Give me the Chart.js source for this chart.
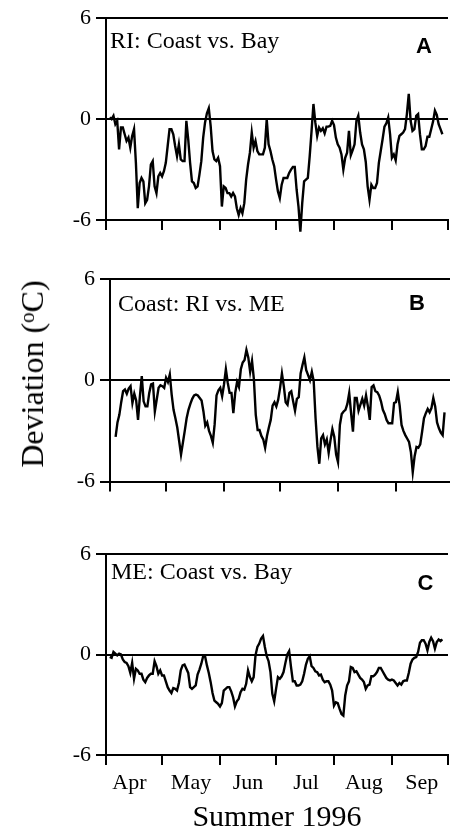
<!DOCTYPE html>
<html>
<head>
<meta charset="utf-8">
<script src="https://cdn.jsdelivr.net/npm/chart.js@4.4.1/dist/chart.umd.min.js"></script>
<style>
  html, body { margin: 0; padding: 0; background: #fff; overflow: hidden; }
  body { width: 450px; height: 833px; position: relative; }
  .panel { position: absolute; left: 0; }
  #ylabel {
    position: absolute; left: 32px; top: 374px;
    transform: translate(-50%, -50%) rotate(-90deg);
    font-family: "Liberation Serif", serif; font-size: 32px; line-height: 1;
    white-space: nowrap; color: #000;
  }
  #ylabel sup { font-size: 21px; line-height: 0; vertical-align: 0.45em; }
</style>
</head>
<body>
<div class="panel" style="top:0;width:450px;height:240px"><canvas id="chartA"></canvas></div>
<div class="panel" style="top:250px;width:454px;height:250px"><canvas id="chartB"></canvas></div>
<div class="panel" style="top:520px;width:450px;height:313px"><canvas id="chartC"></canvas></div>
<div id="ylabel">Deviation (<sup>o</sup>C)</div>

<script>
// Days counted from 1 April 1996
const monthStarts = [0, 30, 61, 91, 122, 153, 183];
const monthLabels = ['Apr', 'May', 'Jun', 'Jul', 'Aug', 'Sep'];
const monthLabelDays = [12.5, 45.5, 76, 107, 138, 169];
const yTicks = [-6, 0, 6];

// A: RI, coast vs. bay (daily, from day 2)
const riStart = 2;
const riCoastBay = [
  0.1, 0.0, 0.2, -0.3, -0.1, -1.8, -0.5, -0.5, -0.9, -1.3,
  -1.1, -1.7, -1.0, -0.6, -2.6, -5.3, -3.8, -3.5, -3.7, -5.0,
  -4.8, -4.0, -2.7, -2.5, -4.0, -4.4, -3.4, -3.2, -3.4, -3.1,
  -2.6, -1.6, -0.6, -0.6, -0.9, -1.6, -2.2, -1.5, -2.4, -2.5,
  -2.5, -0.1, -1.2, -2.6, -3.7, -3.8, -4.1, -4.0, -3.3, -2.5,
  -1.1, -0.2, 0.35, 0.65, -0.4, -1.9, -2.4, -2.5, -2.3, -2.8,
  -5.2, -4.0, -4.1, -4.4, -4.4, -4.6, -4.4, -4.6, -5.3, -5.7,
  -5.3, -5.6, -5.0, -3.6, -2.7, -2.0, -0.8, -1.7, -1.3, -1.9,
  -2.1, -2.1, -2.1, -1.7, 0.0, -1.5, -1.9, -2.4, -2.8, -3.6,
  -4.3, -4.7, -3.9, -3.5, -3.5, -3.5, -3.2, -3.0, -2.85, -2.85,
  -4.2, -5.2, -6.7, -5.0, -3.7, -3.6, -3.5, -2.2, -0.7, 0.9,
  -0.2, -1.0, -0.5, -0.7, -0.55, -0.85, -0.45, -0.45, -0.4, -0.1,
  -0.35, -1.1, -1.5, -1.7, -2.1, -3.0, -2.3, -2.0, -0.7, -2.15,
  -1.85, -1.5, -0.1, 0.2, -0.8, -1.5, -1.8, -2.55, -4.0, -4.8,
  -3.9, -4.1, -4.1, -3.8, -2.6, -1.9, -1.2, -0.45, -0.25, 0.1,
  -0.9, -2.3, -2.1, -2.45, -1.5, -1.0, -0.9, -0.8, -0.6, 0.3,
  1.5, -0.1, -0.7, -0.6, 0.2, 0.3, -0.9, -1.8, -1.8, -1.6,
  -1.05, -1.05, -0.6, -0.15, 0.5, 0.25, -0.3, -0.6, -0.9
];

// B: coast, RI vs. ME (daily, from day 3)
const coastStart = 3;
const coastRiMe = [
  -3.35, -2.5, -2.05, -1.3, -0.65, -0.55, -0.8, -0.5, -0.35, -1.35,
  -0.8, -1.2, -2.35, -0.95, 0.25, -1.25, -1.55, -1.55, -0.75, -0.25,
  -0.2, -1.85, -1.15, -0.45, -0.3, -0.35, -0.45, 0.15, -0.1, 0.35,
  -0.85, -1.75, -2.25, -2.8, -3.6, -4.4, -3.7, -3.0, -2.25, -1.75,
  -1.4, -1.1, -0.9, -0.85, -0.9, -1.05, -1.2, -1.85, -2.7, -2.5,
  -3.0, -3.3, -3.7, -2.6, -0.9, -0.6, -0.45, -0.95, -0.25, 0.65,
  -0.15, -0.75, -0.75, -1.95, -0.75, -0.1, -0.4, 0.65, 1.05, 1.2,
  1.8, 1.35, 0.5, 1.15, 0.05, -2.05, -2.95, -2.95, -3.3, -3.5,
  -4.0, -3.3, -2.8, -2.35, -1.5, -1.3, -1.55, -1.15, -0.45, 0.4,
  -0.35, -1.3, -1.45, -0.75, -0.65, -1.25, -1.8, -1.1, -1.0, 0.4,
  0.9, 1.35, 0.6, 0.3, 0.0, 0.5, -0.05, -2.25, -3.95, -4.95,
  -3.45, -3.25, -3.8, -3.5, -4.3, -3.55, -2.9, -3.35, -4.4, -4.85,
  -2.65, -2.0, -1.85, -1.75, -1.4, -0.75, -1.95, -3.05, -1.05, -1.05,
  -1.8, -1.45, -1.1, -1.5, -0.9, -1.55, -2.35, -0.4, -0.3, -0.65,
  -0.7, -0.9, -1.25, -1.75, -2.0, -2.35, -2.55, -2.55, -2.55, -1.35,
  -1.3, -0.7, -1.5, -2.65, -3.0, -3.25, -3.45, -3.65, -4.25, -5.45,
  -4.5, -3.95, -4.0, -3.8, -3.05, -2.25, -1.95, -1.7, -1.9, -1.65,
  -1.05, -1.55, -2.5, -2.85, -3.1, -3.25, -1.9
];

// C: ME, coast vs. bay (daily, from day 2)
const meStart = 2;
const meCoastBay = [
  -0.15, -0.2, 0.15, 0.05, -0.05, 0.05, 0.0, -0.3, -0.45, -0.5,
  -0.7, -1.1, -0.5, -1.45, -0.85, -0.95, -1.15, -1.15, -1.5, -1.65,
  -1.4, -1.25, -1.15, -1.15, -0.4, -0.7, -1.15, -0.95, -1.25, -1.25,
  -1.6, -1.95, -2.15, -2.3, -2.0, -2.05, -2.15, -1.7, -0.95, -0.65,
  -0.6, -0.85, -1.1, -1.95, -2.05, -1.95, -1.85, -1.2, -0.9, -0.55,
  -0.1, -0.1, -0.65, -1.1, -1.65, -2.3, -2.75, -2.85, -2.95, -3.1,
  -2.9, -2.15, -2.05, -1.95, -1.95, -2.2, -2.55, -3.1, -2.8, -2.65,
  -2.25, -2.05, -2.1, -1.75, -0.95, -1.35, -1.6, -1.35, -0.05, 0.45,
  0.65, 0.95, 1.1, 0.45, -0.1, -0.4, -1.05, -2.35, -2.8, -2.05,
  -1.35, -1.45, -1.3, -1.05, -0.5, 0.0, 0.2, -0.75, -1.6, -1.6,
  -1.85, -1.85, -1.8, -1.6, -1.15, -0.6, -0.25, -0.1, -0.7, -0.8,
  -1.0, -1.05, -1.25, -1.2, -1.5, -1.65, -1.6, -1.6, -1.8, -2.15,
  -3.05, -2.85, -2.9, -3.25, -3.55, -3.65, -2.45, -1.85, -1.6, -0.75,
  -0.8, -1.05, -1.0, -1.2, -1.4, -1.5, -1.65, -2.05, -1.85, -1.8,
  -1.3, -1.3, -1.2, -1.05, -0.8, -0.8, -1.0, -1.2, -1.4, -1.5,
  -1.55, -1.5, -1.55, -1.7, -1.85, -1.7, -1.8, -1.6, -1.55, -1.55,
  -1.1, -0.55, -0.3, -0.2, -0.15, 0.15, 0.7, 0.85, 0.85, 0.65,
  0.25, 0.75, 1.0, 0.8, 0.35, 0.75, 0.9, 0.8, 0.9
];

const serif = '"Liberation Serif", "Times New Roman", serif';

// panel caption and letter, placed relative to the plot area
const panelText = {
  id: 'panelText',
  afterDraw(chart, args, o) {
    const { ctx, chartArea: a } = chart;
    ctx.save();
    ctx.fillStyle = '#000';
    ctx.textBaseline = 'alphabetic';
    ctx.textAlign = 'left';
    ctx.font = '24px ' + serif;
    ctx.fillText(o.title, a.left + o.titleX, a.top + o.titleY);
    ctx.textAlign = 'center';
    ctx.font = 'bold 22px "Liberation Sans", Arial, sans-serif';
    ctx.fillText(o.letter, a.left + o.letterX, a.top + o.letterY);
    ctx.restore();
  }
};

function makePanel(id, values, start, cfg) {
  const scales = {
    x: {
      type: 'linear', min: 0, max: 183, weight: 0,
      afterBuildTicks: s => { s.ticks = monthStarts.map(v => ({ value: v })); },
      ticks: { display: false },
      grid: { drawOnChartArea: false, drawTicks: true, tickLength: 10, color: '#000', lineWidth: 2 },
      border: { display: true, color: '#000', width: 2 },
      afterFit: s => { s.height = 10; }
    },
    y: {
      min: -6, max: 6,
      afterBuildTicks: s => { s.ticks = yTicks.map(v => ({ value: v })); },
      ticks: { color: '#000', font: { family: serif, size: 22 }, padding: 5 },
      grid: { color: '#000', lineWidth: 2, tickLength: 10 },
      border: { color: '#000', width: 2 },
      afterFit: s => { s.width = cfg.left; }
    }
  };
  if (cfg.months) {
    scales.x2 = {
      type: 'linear', position: 'bottom', min: 0, max: 183, weight: 1,
      afterBuildTicks: s => { s.ticks = monthLabelDays.map(v => ({ value: v })); },
      ticks: {
        color: '#000', font: { family: serif, size: 22 }, padding: 5, maxRotation: 0,
        callback: v => monthLabels[monthLabelDays.indexOf(v)]
      },
      grid: { display: false, drawTicks: false },
      border: { display: false },
      title: { display: true, text: 'Summer 1996', color: '#000', font: { family: serif, size: 30, lineHeight: 1 }, padding: 0 },
      afterFit: s => { s.height = cfg.monthsHeight; }
    };
  }
  return new Chart(document.getElementById(id), {
    type: 'line',
    data: {
      datasets: [{
        data: values.map((v, i) => ({ x: start + i, y: v })),
        borderColor: '#000', borderWidth: 2.4, pointRadius: 0, tension: 0, clip: false
      }]
    },
    options: {
      responsive: true, maintainAspectRatio: false, animation: false,
      layout: { padding: { top: cfg.top, right: cfg.right, bottom: cfg.bottom, left: 0 } },
      scales: scales,
      plugins: { legend: { display: false }, tooltip: { enabled: false }, panelText: cfg.text }
    },
    plugins: [panelText]
  });
}

makePanel('chartA', riCoastBay, riStart, {
  left: 106, top: 17, right: 2, bottom: 10,
  text: { title: 'RI: Coast vs. Bay', titleX: 4, titleY: 30, letter: 'A', letterX: 318, letterY: 35 }
});
makePanel('chartB', coastRiMe, coastStart, {
  left: 110, top: 29, right: 2, bottom: 8.5,
  text: { title: 'Coast: RI vs. ME', titleX: 8, titleY: 31.5, letter: 'B', letterX: 307, letterY: 31 }
});
makePanel('chartC', meCoastBay, meStart, {
  left: 106, top: 34, right: 2, bottom: 0, months: true, monthsHeight: 68,
  text: { title: 'ME: Coast vs. Bay', titleX: 5, titleY: 24.5, letter: 'C', letterX: 319.5, letterY: 36 }
});
</script>
</body>
</html>
